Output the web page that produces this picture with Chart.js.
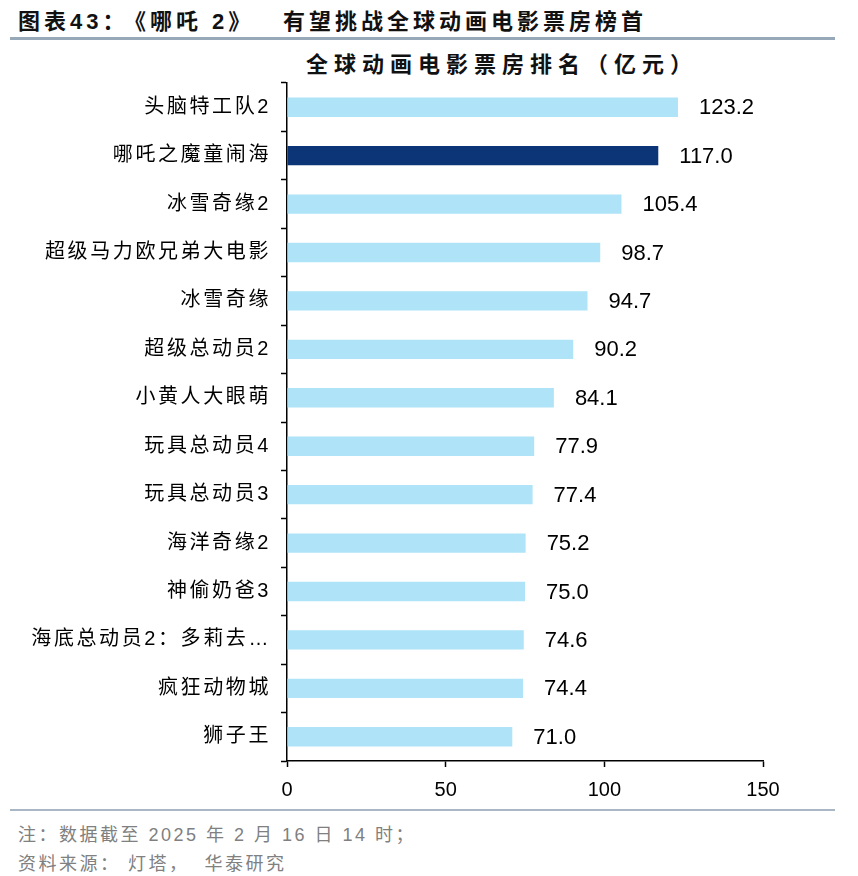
<!DOCTYPE html>
<html>
<head>
<meta charset="utf-8">
<script src="https://cdn.jsdelivr.net/npm/chart.js@4.4.0/dist/chart.umd.min.js"></script>
<style>
  body { margin: 0; width: 858px; height: 876px; background: #fff; position: relative; overflow: hidden;
         font-family: "Liberation Sans", "Noto Sans CJK SC", sans-serif; }
  .head { position: absolute; top: 3px; font-size: 22px; font-weight: bold; color: #111; letter-spacing: 4px; white-space: nowrap; }
  #line1 { position: absolute; left: 10px; top: 37px; width: 825px; height: 3px; background: #97a9b9; }
  #ctitle { position: absolute; left: 0; width: 1004px; top: 46px; text-align: center; font-size: 22px; font-weight: bold; color: #111; letter-spacing: 6px; }
  #line2 { position: absolute; left: 10px; top: 809px; width: 825px; height: 2px; background: #a9b7c4; }
  .note { position: absolute; left: 18px; font-size: 18px; color: #808080; letter-spacing: 2.5px; white-space: nowrap; }
  #wrap { position: absolute; left: 0; top: 61px; width: 858px; height: 742px; }
</style>
</head>
<body>
<div class="head" style="left:18px">图表43：</div>
<div class="head" style="left:124px">《哪吒 2》</div>
<div class="head" style="left:283px">有望挑战全球动画电影票房榜首</div>
<div id="line1"></div>
<div id="ctitle">全球动画电影票房排名（亿元）</div>
<div id="wrap"><canvas id="myChart"></canvas></div>
<div id="line2"></div>
<div class="note" style="top:820px">注：数据截至 2025 年 2 月 16 日 14 时；</div>
<div class="note" style="top:849px">资料来源：&nbsp;灯塔，&nbsp;&nbsp;华泰研究</div>
<script>
// chart data
const movies = ['头脑特工队2', '哪吒之魔童闹海', '冰雪奇缘2', '超级马力欧兄弟大电影', '冰雪奇缘', '超级总动员2', '小黄人大眼萌',
  '玩具总动员4', '玩具总动员3', '海洋奇缘2', '神偷奶爸3', '海底总动员2：多莉去…', '疯狂动物城', '狮子王']
const boxOffice = [123.2, 117.0, 105.4, 98.7, 94.7, 90.2, 84.1, 77.9, 77.4, 75.2, 75.0, 74.6, 74.4, 71.0]
const xTicks = [0, 50, 100, 150]

const FONT = '"Liberation Sans", "Noto Sans CJK SC", sans-serif'

// value labels at the end of each bar
const valueLabels = {
  id: 'valueLabels',
  beforeDraw (chart) {
    // wider spacing for the category names only
    const y = chart.scales.y
    if (y && !y._spaced) {
      const orig = y.drawLabels.bind(y)
      y.drawLabels = function (area) {
        const c = chart.ctx
        c.save()
        c.letterSpacing = '2.6px'
        orig(area)
        c.restore()
      }
      y._spaced = true
    }
  },
  afterDatasetsDraw (chart) {
    const ctx = chart.ctx
    const meta = chart.getDatasetMeta(0)
    ctx.save()
    ctx.font = '22px ' + FONT
    ctx.fillStyle = '#000'
    ctx.textBaseline = 'middle'
    meta.data.forEach((bar, i) => {
      ctx.fillText(boxOffice[i].toFixed(1), bar.x + 21, bar.y + 1)
    })
    ctx.restore()
  }
}

const ctx = document.getElementById('myChart').getContext('2d')
new Chart(ctx, {
  type: 'bar',
  data: {
    labels: movies,
    datasets: [{
      data: boxOffice,
      backgroundColor: movies.map((m, i) => i === 1 ? '#0b3577' : '#afe3f7'),
      categoryPercentage: 1,
      barPercentage: 0.4
    }]
  },
  options: {
    indexAxis: 'y',
    responsive: true,
    maintainAspectRatio: false,
    animation: false,
    layout: { padding: { top: 0, right: 95, bottom: 0, left: 0 } },
    plugins: { legend: { display: false }, tooltip: { enabled: false } },
    scales: {
      x: {
        min: 0,
        max: 150,
        afterBuildTicks (scale) { scale.ticks = xTicks.map(v => ({ value: v })) },
        afterFit (scale) { scale.height = 42 },
        border: { color: '#000', width: 1.5 },
        grid: { drawOnChartArea: false, tickLength: 6, tickColor: '#000', tickWidth: 1.5 },
        ticks: { color: '#000', font: { size: 20, family: FONT }, padding: 11 }
      },
      y: {
        afterFit (scale) { scale.width = 287 },
        border: { color: '#000', width: 1.5 },
        grid: { drawOnChartArea: false, tickLength: 6, tickColor: '#000', tickWidth: 1.5, offset: true },
        ticks: { color: '#000', font: { size: 20, family: FONT }, padding: 10 }
      }
    }
  },
  plugins: [valueLabels]
})
</script>
</body>
</html>
